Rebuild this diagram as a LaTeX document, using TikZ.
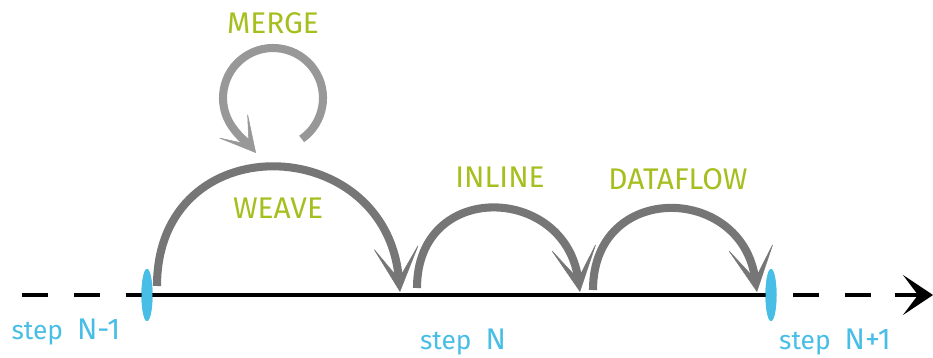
\documentclass[tikz,border=0pt]{standalone}
\usepackage{fontspec}
\setmainfont{Fira Sans}
\usetikzlibrary{arrows.meta,shapes.geometric}
\definecolor{leaf}{RGB}{166,190,30}
\definecolor{sky}{RGB}{72,190,230}
\definecolor{hopgray}{RGB}{118,118,118}
\definecolor{loopgray}{RGB}{152,152,152}

\begin{document}
\begin{tikzpicture}[
  x=0.02cm, y=0.02cm,
  hop/.style={draw=hopgray, line width=4.6pt,
    -{Stealth[length=0.95cm,width=0.95cm,inset=0.68cm,line width=0.3pt]}},
  selfhop/.style={draw=loopgray, line width=4.6pt,
    -{Stealth[length=0.75cm,width=0.8cm,inset=0.52cm,line width=0.3pt]}},
  pass/.style={font=\fontsize{17}{20}\selectfont, text=leaf, inner sep=0pt},
  steplabel/.style={font=\fontsize{15}{18}\selectfont, text=sky, inner sep=0pt},
  tick/.style={ellipse, fill=sky, minimum width=0.22cm,
    minimum height=1.04cm, inner sep=0pt},
  axis/.style={draw=black, line width=2pt},
  gap/.style={axis, dash pattern=on 0.52cm off 0.52cm}
]
\useasboundingbox (0,0) rectangle (933,358);

% Time axis
\coordinate (axstart) at (22,63);
\coordinate (axmid) at (793,63);
\coordinate (axhead) at (895,63);
\coordinate (axend) at (933,63);
\node[tick] (prev) at (147,63) {};
\node[tick] (next) at (771,63) {};
\draw[gap] (axstart) -- (prev.center);
\draw[axis] (prev.center) -- (next.center);
\draw[gap] (axmid) -- (axhead);
\draw[axis, -{Stealth[length=0.6cm,width=0.8cm,inset=0.3cm]}] (axhead) -- (axend);
\node[tick] at (prev) {};
\node[tick] at (next) {};

\node[steplabel] (lprev) at (66,26) {step\ \ {\fontsize{17}{20}\selectfont N-1}};
\node[steplabel] (lcur) at (463,16) {step\ \ {\fontsize{17}{20}\selectfont N}};
\node[steplabel] (lnext) at (835,16) {step\ \ {\fontsize{17}{20}\selectfont N+1}};

% Passes between steps
\coordinate (weaves) at (157,72);
\coordinate (weavee) at (400,66);
\coordinate (inlines) at (417,70);
\coordinate (inlinee) at (580,66);
\coordinate (flows) at (593,68);
\coordinate (flowe) at (757,66);
\draw[hop] (weaves) to[out=90, in=95, looseness=1.7] (weavee);
\draw[hop] (inlines) to[out=90, in=98, looseness=1.7] (inlinee);
\draw[hop] (flows) to[out=90, in=98, looseness=1.7] (flowe);

% Merge loop
\coordinate (mergec) at (273,260);
\coordinate (mergetip) at (256,205);
\draw[selfhop] (mergec) ++(-55:50) arc[start angle=-55, end angle=215, radius=50]
  to[out=-55, in=130] (mergetip);

\node[pass] (merge) at (273,335) {MERGE};
\node[pass] (weave) at (278,150) {WEAVE};
\node[pass] (inline) at (500,181) {INLINE};
\node[pass] (flow) at (678,179) {DATAFLOW};
\end{tikzpicture}
\end{document}
